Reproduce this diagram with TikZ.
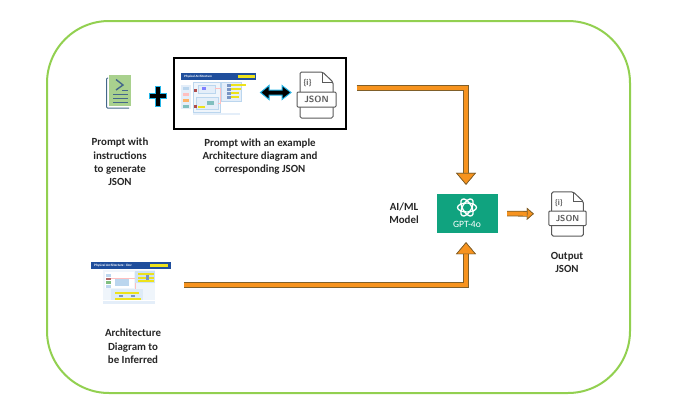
\documentclass[tikz,border=0pt]{standalone}
\usepackage{fontspec}
\setmainfont{Carlito}
\usetikzlibrary{arrows.meta}
\definecolor{framegreen}{HTML}{92D050}
\definecolor{gptteal}{HTML}{10A37F}
\definecolor{floworange}{HTML}{F7931E}
\definecolor{flowedge}{HTML}{7F5F2A}
\definecolor{docgreen}{HTML}{A9D18E}
\definecolor{docblue}{HTML}{44688A}
\definecolor{glowblue}{HTML}{22B5E8}
\definecolor{iconline}{HTML}{595959}
\definecolor{bannerblue}{HTML}{1F4E9C}
\definecolor{paleblue}{HTML}{E4EEF9}
\definecolor{midblue}{HTML}{BBD6EE}
\definecolor{thumbyellow}{HTML}{EDE21C}
\tikzset{
	caption/.style={font=\fontsize{10.9}{13.4}\selectfont\bfseries,align=center,text=black!85,inner sep=0pt},
	fatarrow/.style={draw=floworange,line width=4.8pt,line join=miter,
		-{Triangle[width=20pt,length=12pt,fill=floworange,color=flowedge,line width=.7pt]},
		preaction={draw=flowedge,line width=6.4pt,-{Triangle[width=20pt,length=12pt,fill=floworange,color=flowedge,line width=.7pt]}}},
	smallarrow/.style={draw=floworange,line width=4pt,
		-{Triangle[width=12pt,length=7pt,fill=floworange,color=flowedge,line width=.7pt]},
		preaction={draw=flowedge,line width=5.6pt,-{Triangle[width=12pt,length=7pt,fill=floworange,color=flowedge,line width=.7pt]}}},
	jsonicon/.pic={
		% page with folded corner
		\draw[iconline,line width=1pt,line join=round,fill=white,rounded corners=1.5pt] (-16.5,23) -- (-16.5,-23) -- (6,-23) -- (16.5,-13) -- (16.5,23) -- cycle;
		\draw[iconline,line width=.8pt] (6,-23) -- (6,-13) -- (16.5,-13);
		\node[font=\fontsize{8.5}{9}\selectfont\bfseries,text=iconline,inner sep=0pt] at (-9,-11.5) {\{i\}};
		% band
		\draw[iconline,line width=1pt,fill=white,rounded corners=1pt] (-19.5,-3) rectangle (19.5,12);
		\node[font=\fontsize{9}{10}\selectfont\bfseries\sffamily,text=iconline,inner sep=0pt] at (0,4.5) {JSON};
	},
	examplethumb/.pic={
		% banner
		\fill[bannerblue] (0,0) rectangle (75,6.5);
		\fill[thumbyellow] (57,2) rectangle (74,4.5);
		\node[font=\fontsize{3.2}{3}\selectfont\bfseries,text=white,inner sep=0pt,anchor=west] at (3,3.2) {Physical Architecture};
		% left column
		\fill[paleblue] (0,12) rectangle (10,36);
		\foreach \yy/\cc in {14/midblue,20/red!25,26/orange!60,32/teal!50}
			\fill[\cc] (2,\yy) rectangle (8,\yy+3);
		% centre panel
		\draw[midblue,fill=paleblue!60,line width=.4pt] (12,9) rectangle (39,39);
		\draw[midblue,fill=paleblue,line width=.4pt] (17,12) rectangle (34,20);
		\draw[midblue,fill=paleblue,line width=.4pt] (15,24) rectangle (37,36);
		\fill[blue!50] (21,14) rectangle (25,17);
		\fill[teal!50] (26,28) rectangle (33,32);
		\fill[red!55!black!70] (13,16) rectangle (15.5,18.5);
		\fill[red!55!black!70] (13,32) rectangle (15.5,34.5);
		\fill[thumbyellow] (17,32.5) rectangle (24,35);
		\draw[red!25,line width=.5pt] (34,15) -- (39.5,15) -- (39.5,30) -- (37,30);
		% right panel
		\draw[midblue,fill=paleblue,line width=.4pt] (40,9) rectangle (60,28);
		\foreach \yy/\ww in {11/65,15/60,19/58,23/58}{
			\fill[thumbyellow] (50,\yy) rectangle (\ww,\yy+2.4);
			\fill[bannerblue!60] (46,\yy) rectangle (50,\yy+3);
		}
		% footer
		\fill[paleblue] (12,39.5) rectangle (59,42);
	},
	inferthumb/.pic={
		% banner
		\fill[bannerblue] (0,0) rectangle (80,7);
		\fill[thumbyellow] (59,2.2) rectangle (77,4.8);
		\node[font=\fontsize{3.4}{3}\selectfont\bfseries,text=white,inner sep=0pt,anchor=west] at (3,3.5) {Physical Architecture - Dev};
		% diagram panel
		\fill[paleblue!60] (12,8) rectangle (64,38);
		\fill[white] (14,10) rectangle (43,26);
		\foreach \yy/\cc in {12/midblue,15.5/red!50!black!60,19/green!50!black!50,23/midblue}
			\fill[\cc] (15,\yy) rectangle (20,\yy+2.5);
		\fill[midblue] (24,16) rectangle (38,24);
		\draw[red!25,line width=.5pt] (20,16) -- (44,16) -- (44,27);
		% right panel
		\fill[midblue!70] (44,9) rectangle (64,21);
		\foreach \yy in {11,14.5,18}{
			\fill[thumbyellow] (47,\yy) rectangle (63,\yy+2);
		}
		\fill[bannerblue!60] (55,13) rectangle (58,18);
		% lower panel
		\fill[midblue!50] (20,27) rectangle (52,38);
		\fill[thumbyellow] (24,29.5) rectangle (48,31.5);
		\fill[thumbyellow] (24,35.5) rectangle (50,37.5);
		\fill[bannerblue!60] (28,32.5) rectangle (32,35);
		\fill[bannerblue!60] (40,32.5) rectangle (44,35);
		% footer
		\fill[paleblue] (12,39) rectangle (64,42);
	}
}
\begin{document}
\begin{tikzpicture}[x=1pt,y=-1pt]
	\useasboundingbox (0,0) rectangle (683,415);
	% outer frame
	\node (outerFrame) [draw=framegreen,line width=2pt,rounded corners=62pt,minimum width=583pt,minimum height=372pt,inner sep=0pt] at (338.5,207) {};
	% prompt document
	\node (promptDoc) [minimum width=24pt,minimum height=33pt,inner sep=0pt] at (118.5,92) {};
	\draw[docblue,line width=1pt,rounded corners=1pt] (108,78) -- (106.5,78) -- (106.5,108) -- (129,108);
	\fill[docgreen] (108.5,75) rectangle (130.5,106);
	\draw[docblue,line width=1.4pt,line join=miter] (116,79.5) -- (123,85) -- (116,90);
	\draw[docblue,line width=1.4pt] (122,90.5) -- (128,90.5);
	\foreach \yy in {94.5,98.5,102.5}
		\draw[docblue,line width=1.4pt] (113,\yy) -- (128,\yy);
	% plus sign
	\node (plusSign) [minimum size=17pt,inner sep=0pt] at (157.5,96) {};
	\draw[glowblue,line width=1pt,fill=black] (155,86) -- (160,86) -- (160,93.5) -- (166,93.5) -- (166,98.5) -- (160,98.5) -- (160,106) -- (155,106) -- (155,98.5) -- (149,98.5) -- (149,93.5) -- (155,93.5) -- cycle;
	% example box
	\node (exampleBox) [draw=black,line width=2pt,minimum width=172pt,minimum height=71pt,inner sep=0pt] at (259.5,93) {};
	\node (exampleThumb) [minimum width=75pt,minimum height=42pt,inner sep=0pt] at (218.5,94) {};
	\pic at (181,73) {examplethumb};
	\draw[glowblue,line width=1pt,fill=black] (260.5,92.5) -- (269,85.5) -- (269,90) -- (282,90) -- (282,85.5) -- (291,92.5) -- (282,99.5) -- (282,95) -- (269,95) -- (269,99.5) -- cycle;
	\node (exampleJson) [minimum width=39pt,minimum height=46pt,inner sep=0pt] at (316.5,95) {};
	\pic at (exampleJson.center) {jsonicon};
	% model
	\node (gptBox) [fill=gptteal,minimum width=61pt,minimum height=39pt,inner sep=0pt] at (467.5,213.5) {};
	\foreach \aa in {0,60,120}
		\draw[white,line width=1.3pt] (467,207.5) ellipse [x radius=9.5pt,y radius=4.5pt,rotate=\aa];
	\node (gptLabel) [font=\fontsize{9.6}{10}\selectfont\rmfamily,text=white,inner sep=0pt] at (467,224.5) {GPT-4o};
	% output
	\node (outputJson) [minimum width=38pt,minimum height=44pt,inner sep=0pt] at (567.5,214) {};
	\pic[scale=.96,transform shape] at (outputJson.center) {jsonicon};
	% inferred diagram
	\node (inferThumb) [minimum width=80pt,minimum height=43pt,inner sep=0pt] at (131,283.5) {};
	\pic at (91,262) {inferthumb};
	% captions
	\node (promptText) [caption] at (120,162) {Prompt with\\instructions\\to generate\\JSON};
	\node (exampleText) [caption] at (260,156.5) {Prompt with an example\\Architecture diagram and\\corresponding JSON};
	\node (modelText) [caption] at (404,213.5) {AI/ML\\Model};
	\node (outputText) [caption] at (567,262.5) {Output\\JSON};
	\node (inferText) [caption] at (133,346.5) {Architecture\\Diagram to\\be Inferred};
	% flow arrows
	\draw[fatarrow,shorten <=10pt,shorten >=9pt] ([yshift=5pt]exampleBox.east) -| ([xshift=-1.5pt]gptBox.north);
	\draw[fatarrow,shorten <=13pt,shorten >=9pt] ([yshift=-1.5pt]inferThumb.east) -| ([xshift=-1.5pt]gptBox.south);
	\draw[smallarrow,shorten <=9pt,shorten >=14.5pt] (gptBox.east) -- (outputJson.west);
\end{tikzpicture}
\end{document}
